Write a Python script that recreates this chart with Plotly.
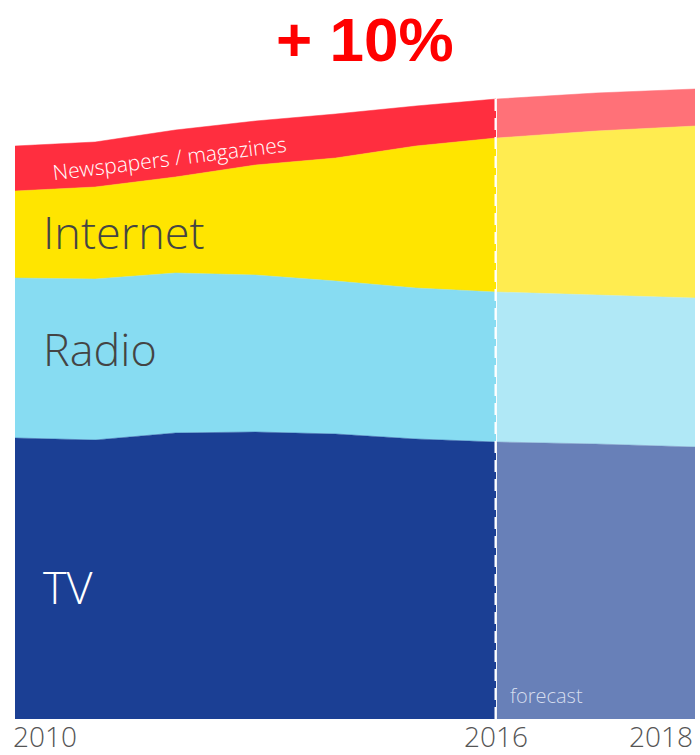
import plotly.graph_objects as go

# Media advertising spend, stacked by channel (index units)
years_hist = [2010, 2011, 2012, 2013, 2014, 2015, 2016]
tv_hist = [281, 279, 286, 287, 285, 280, 277]
radio_hist = [160, 161, 160, 157, 153, 151, 150]
internet_hist = [87, 92, 96, 110, 123, 142, 154]
print_hist = [45, 45, 47, 44, 44, 40, 39]

years_fc = [2016, 2017, 2018]
tv_fc = [277, 275, 272]
radio_fc = [150, 149, 149]
internet_fc = [154, 164, 172]
print_fc = [39, 38, 37]

growth_label = "+ 10%"
channel_names = ["TV", "Radio", "Internet", "Newspapers / magazines"]
year_labels = ["2010", "2016", "2018"]

colors_hist = ["#1B3F94", "#87DCF2", "#FFE500", "#FF2E3F"]
colors_fc = ["#6880B8", "#B0E8F6", "#FFEC50", "#FF7178"]

fig = go.Figure()

hist_series = [tv_hist, radio_hist, internet_hist, print_hist]
fc_series = [tv_fc, radio_fc, internet_fc, print_fc]

for name, vals, col in zip(channel_names, hist_series, colors_hist):
    fig.add_trace(go.Scatter(
        x=years_hist, y=vals, name=name, stackgroup="hist",
        mode="lines", line=dict(width=0.5, color=col), fillcolor=col,
        xaxis="x", yaxis="y", hoverinfo="x+y+name",
    ))

for name, vals, col in zip(channel_names, fc_series, colors_fc):
    fig.add_trace(go.Scatter(
        x=years_fc, y=vals, name=name + " (forecast)", stackgroup="fc",
        mode="lines", line=dict(width=0.5, color=col), fillcolor=col,
        xaxis="x2", yaxis="y", hoverinfo="x+y+name",
    ))

W, H = 700, 755
x_left, x_mid, x_right = 15, 496, 695
y_bottom = 719

fig.update_layout(
    width=W, height=H,
    margin=dict(l=0, r=0, t=0, b=0),
    paper_bgcolor="white", plot_bgcolor="white",
    showlegend=False,
    xaxis=dict(domain=[x_left / W, x_mid / W], range=[2010, 2016],
               visible=False, fixedrange=True),
    xaxis2=dict(domain=[x_mid / W + 0.001, x_right / W], range=[2016, 2018],
                visible=False, fixedrange=True),
    yaxis=dict(domain=[1 - y_bottom / H, 1], range=[0, y_bottom],
               visible=False, fixedrange=True),
)

# Boundary between actuals and forecast
total_2016 = tv_hist[-1] + radio_hist[-1] + internet_hist[-1] + print_hist[-1]
fig.add_shape(type="line", xref="x", yref="y", x0=2016, x1=2016,
              y0=0, y1=total_2016,
              line=dict(color="white", width=3, dash="12px,7px"))

label_font = "'Open Sans', Lato, sans-serif"

def mid(lower, value):
    return lower + value / 2.0

# Channel labels inside the bands
big = dict(family=label_font, size=45, weight=300)
fig.add_annotation(x=2010.33, y=mid(0, tv_hist[0]) - 8, xref="x", yref="y",
                   text=channel_names[0], showarrow=False, xanchor="left",
                   yanchor="middle", font=dict(big, color="white"))
fig.add_annotation(x=2010.33, y=mid(tv_hist[0], radio_hist[0]) + 10, xref="x", yref="y",
                   text=channel_names[1], showarrow=False, xanchor="left",
                   yanchor="middle", font=dict(big, color="#444444"))
fig.add_annotation(x=2010.33, y=mid(tv_hist[0] + radio_hist[0], internet_hist[0]) + 3,
                   xref="x", yref="y",
                   text=channel_names[2], showarrow=False, xanchor="left",
                   yanchor="middle", font=dict(big, color="#444444"))
fig.add_annotation(x=2011.93, y=561, xref="x", yref="y",
                   text=channel_names[3], showarrow=False, textangle=-7,
                   xanchor="center", yanchor="middle",
                   font=dict(family=label_font, size=21, color="white", weight=300))

fig.add_annotation(x=2016.11, y=24, xref="x2", yref="y",
                   text="forecast", showarrow=False, xanchor="left",
                   yanchor="middle",
                   font=dict(family=label_font, size=20, color="#D5DDEE", weight=300))

# Year labels under the axis
tick_font = dict(family=label_font, size=28, color="#555555", weight=300)
fig.add_annotation(x=x_left / W, y=0, xref="paper", yref="paper",
                   text=year_labels[0], showarrow=False, xanchor="left",
                   yanchor="bottom", xshift=-4, yshift=-2, font=tick_font)
fig.add_annotation(x=x_mid / W, y=0, xref="paper", yref="paper",
                   text=year_labels[1], showarrow=False, xanchor="center",
                   yanchor="bottom", yshift=-2, font=tick_font)
fig.add_annotation(x=x_right / W, y=0, xref="paper", yref="paper",
                   text=year_labels[2], showarrow=False, xanchor="right",
                   yanchor="bottom", yshift=-2, font=tick_font)

# Headline growth figure
fig.add_annotation(x=365 / W, y=1 - 39 / H, xref="paper", yref="paper",
                   text="<b>" + growth_label + "</b>", showarrow=False,
                   xanchor="center", yanchor="middle",
                   font=dict(family="Arial, 'Liberation Sans', sans-serif",
                             size=62, color="#FF0000"))

fig.write_html("out.html")
